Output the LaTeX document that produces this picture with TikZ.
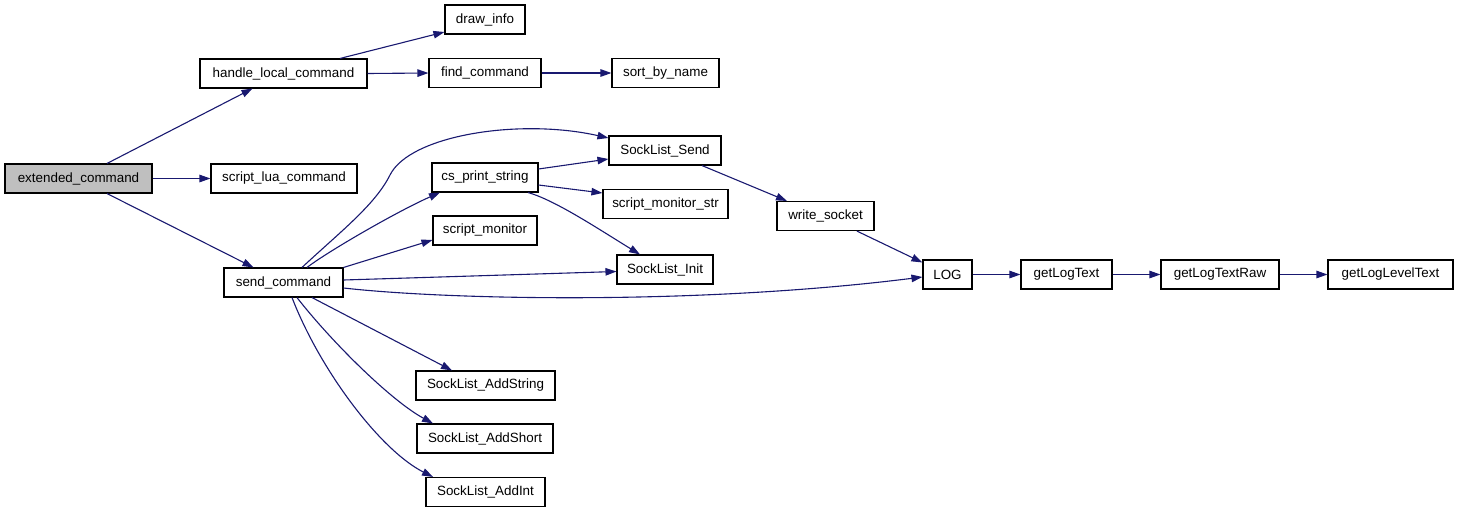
\documentclass[tikz,border=0pt]{standalone}
\usepackage{fontspec}
\setmainfont{Liberation Sans}
\usetikzlibrary{arrows.meta}
\definecolor{edgec}{HTML}{191970}
\definecolor{graybox}{HTML}{BFBFBF}
\begin{document}
\begin{tikzpicture}[x=1pt,y=-1pt,
  box/.style={draw=black, line width=1.1pt, fill=white, minimum height=29pt, inner sep=0pt,
    font=\fontsize{13.4}{15}\selectfont},
  conn/.style={draw=edgec, line width=1.1pt, -{Triangle[length=11pt,width=7.5pt]}}]
\useasboundingbox (0,0) rectangle (1459,512);
% nodes
\node[box, fill=graybox, minimum width=147pt] (ext) at (78.5,178.5) {extended\_command};
\node[box, minimum width=167pt] (hlc) at (283.5,73.5) {handle\_local\_command};
\node[box, minimum width=146pt] (slc) at (284,178.5) {script\_lua\_command};
\node[box, minimum width=119pt] (send) at (283.5,282.5) {send\_command};
\node[box, minimum width=80pt] (draw) at (485,19.5) {draw\_info};
\node[box, minimum width=112pt] (find) at (485,73) {find\_command};
\node[box, minimum width=106pt] (cs) at (485,177.5) {cs\_print\_string};
\node[box, minimum width=104pt] (sm) at (485,230.5) {script\_monitor};
\node[box, minimum width=139pt] (adds) at (485.5,385.5) {SockList\_AddString};
\node[box, minimum width=136pt] (addsh) at (485,438.5) {SockList\_AddShort};
\node[box, minimum width=119pt] (addi) at (485.5,492) {SockList\_AddInt};
\node[box, minimum width=107pt] (sort) at (665.5,73) {sort\_by\_name};
\node[box, minimum width=112pt] (ssend) at (665,150.5) {SockList\_Send};
\node[box, minimum width=125pt] (smstr) at (665.5,204) {script\_monitor\_str};
\node[box, minimum width=96pt] (init) at (665,269.5) {SockList\_Init};
\node[box, minimum width=97pt] (ws) at (825.5,216) {write\_socket};
\node[box, minimum width=49pt] (log) at (947.5,274.5) {LOG};
\node[box, minimum width=91pt] (glt) at (1066.5,274.5) {getLogText};
\node[box, minimum width=118pt] (gltr) at (1220,274.5) {getLogTextRaw};
\node[box, minimum width=125pt] (glvl) at (1390.5,274.5) {getLogLevelText};
% edges
\draw[conn] ([xshift=28.5pt]ext.north) -- ([xshift=-31pt]hlc.south);
\draw[conn] (ext.east) -- (slc.west);
\draw[conn] ([xshift=28.5pt]ext.south) -- ([xshift=-30pt]send.north);
\draw[conn] ([xshift=56.5pt]hlc.north) -- ([yshift=-12.5pt]draw.west);
\draw[conn] (hlc.east) -- (find.west);
\draw[conn] (find.east) -- (sort.west);
\draw[conn] ([xshift=18.5pt]send.north) .. controls (340,232) and (375,205) .. (390,175)
   .. controls (410,135) and (520,118) .. ([yshift=12.5pt]ssend.west);
\draw[conn] ([xshift=23.5pt]send.north) .. controls (330,250) and (400,210) .. ([xshift=-45pt]cs.south);
\draw[conn] (send.north east) -- ([yshift=-9.5pt]sm.west);
\draw[conn] ([yshift=2.5pt]send.east) -- ([yshift=-2pt]init.west);
\draw[conn] ([yshift=-5.5pt]send.east) .. controls (450,300) and (700,305) .. ([yshift=-2.5pt]log.west);
\draw[conn] ([xshift=28.5pt]send.south) -- ([xshift=-33.5pt]adds.north);
\draw[conn] ([xshift=13.5pt]send.south) .. controls (330,340) and (390,400) .. ([xshift=-52pt]addsh.north);
\draw[conn] ([xshift=8.5pt]send.south) .. controls (320,370) and (380,450) .. ([xshift=-52.5pt]addi.north);
\draw[conn] ([yshift=8.5pt]cs.east) -- ([yshift=-8.5pt]ssend.west);
\draw[conn] ([yshift=-7.5pt]cs.east) -- ([yshift=11pt]smstr.west);
\draw[conn] ([xshift=43pt]cs.south) .. controls (555,200) and (600,230) .. ([xshift=-25pt]init.north);
\draw[conn] ([xshift=37pt]ssend.south) -- ([xshift=-38.5pt]ws.north);
\draw[conn] (ws) -- (log);
\draw[conn] (log.east) -- (glt.west);
\draw[conn] (glt.east) -- (gltr.west);
\draw[conn] (gltr.east) -- (glvl.west);
\end{tikzpicture}
\end{document}
